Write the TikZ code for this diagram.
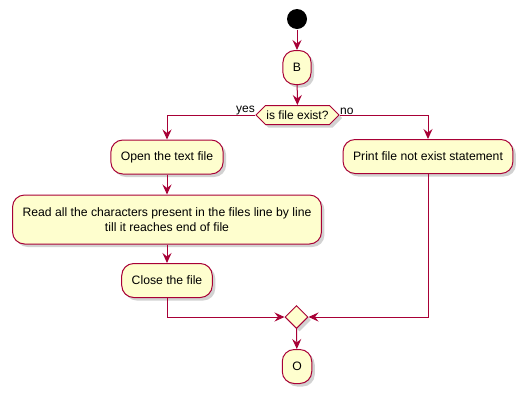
\documentclass[tikz,border=0pt]{standalone}
\usepackage{fontspec}
\setmainfont{Liberation Sans}
\usetikzlibrary{arrows.meta, shapes.geometric, shapes.symbols, shadows}
\definecolor{umlred}{HTML}{A80036}
\definecolor{umlfill}{HTML}{FEFECE}

\begin{document}
\begin{tikzpicture}[x=1pt, y=-1pt, line width=1pt,
  every shadow/.style = {shadow xshift=3pt, shadow yshift=-3pt,
    fill=black!35, opacity=0.5},
  act/.style    = {draw=umlred, fill=umlfill, rounded corners=12pt,
    minimum height=34pt, inner xsep=10pt, align=center,
    font=\fontsize{12.2}{15}\selectfont, drop shadow},
  test/.style   = {draw=umlred, fill=umlfill, shape=signal,
    signal to=west and east, minimum width=81pt, minimum height=19pt,
    inner sep=1pt, font=\fontsize{12}{13}\selectfont, drop shadow},
  merge/.style  = {draw=umlred, fill=umlfill, shape=diamond,
    minimum size=23pt, inner sep=0pt, drop shadow},
  lbl/.style    = {inner sep=0pt, font=\fontsize{12}{13}\selectfont},
  flow/.style   = {draw=umlred, -{Stealth[length=10pt, width=9pt, inset=3.5pt]}},
  ]
  \useasboundingbox (0,0) rectangle (529,400);

  % main column
  \node[circle, fill=black, minimum size=20pt, inner sep=0pt] (start) at (297,19) {};
  \node[act] (b) at (297,67.5) {B};
  \node[test] (exist) at (297.5,115) {is file exist?};
  \node[lbl, anchor=south east] (yes) at (exist.west) {yes};
  \node[lbl, anchor=south west] (no) at (exist.east) {no};

  % yes branch
  \node[act] (open) at (167,157) {Open the text file};
  \node[act, minimum height=49pt] (read) at (167,219.5)
    {Read all the characters present in the files line by line\\ till it reaches end of file};
  \node[act] (close) at (167,280.5) {Close the file};

  % no branch
  \node[act] (print) at (428,156.5) {Print file not exist statement};

  \node[merge] (join) at (296.5,317) {};
  \node[act] (o) at (297,366.5) {O};

  \draw[flow] (start) -- (b);
  \draw[flow] (b) -- (exist);
  \draw[flow] (exist.west) -| (open.north);
  \draw[flow] (exist.east) -| (print.north);
  \draw[flow] (open) -- (read);
  \draw[flow] (read) -- (close);
  \draw[flow] (close.south) |- (join.west);
  \draw[flow] (print.south) |- (join.east);
  \draw[flow] (join) -- (o);
\end{tikzpicture}
\end{document}
